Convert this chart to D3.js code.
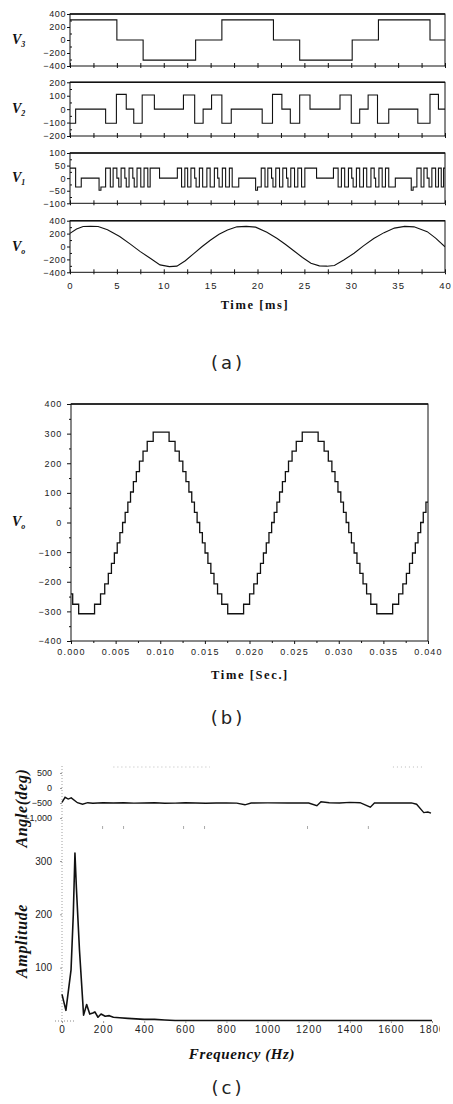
<!DOCTYPE html>
<html>
<head>
<meta charset="utf-8">
<script src="https://cdn.jsdelivr.net/npm/d3@7"></script>
<style>
    html, body { margin: 0; padding: 0; background: #fff; }
    svg { display: block; }
    .tick text { font-family: "Liberation Sans", Arial, sans-serif; fill: #222; }
    .serif-title { font-family: "Liberation Serif", "Times New Roman", serif; font-weight: bold; fill: #111; }
    .panel-tag { font-family: "DejaVu Sans", "Noto Sans", sans-serif; font-size: 18px; fill: #222; letter-spacing: 3px; }
</style>
</head>
<body>
<svg id="figure" width="453" height="1104"></svg>
<script>
// ---- panel (a): stacked cell voltages, time in ms
const v3Times = [0, 5.0, 7.8, 13.4, 16.2, 21.7, 24.5, 30.1, 32.9, 38.4, 40];
const v3Values = [310, 0, -310, 0, 310, 0, -310, 0, 310, 0, 0];

const v2Times = [0, 0.6, 3.8, 4.95, 6.0, 6.8, 7.7, 9.0, 12.1, 13.3, 14.2, 15.1, 16.2, 17.2,
    20.5, 21.6, 22.6, 23.5, 24.5, 25.6, 28.8, 30.0, 30.9, 31.8, 32.8, 34.0, 37.1, 38.4, 39.3, 40];
const v2Values = [-105, 0, -105, 110, 0, -105, 105, 0, 105, -105, 0, 105, -105, 0,
    -105, 110, 0, -105, 105, 0, 105, -105, 0, 105, -105, 0, -105, 110, 0, 0];

const v1Times = [0, 0.6, 1.2, 3.1, 3.3, 3.8, 4.3, 4.6, 5.0, 5.2, 5.45, 5.85, 6.0, 6.3, 6.7, 6.85,
    7.15, 7.55, 7.9, 8.3, 8.55, 9.55, 11.45, 11.9, 12.25, 12.55, 12.9, 13.3, 13.45, 13.8, 14.15,
    14.6, 14.95, 15.4, 15.75, 15.9, 16.25, 16.6, 17.0, 17.3, 18.0, 19.8, 20.0, 20.4, 20.8, 21.1,
    21.5, 21.65, 21.95, 22.35, 22.7, 23.1, 23.25, 23.55, 23.95, 24.3, 24.7, 25.05, 26.3, 28.1,
    28.6, 28.95, 29.3, 29.7, 30.05, 30.2, 30.55, 30.9, 31.3, 31.65, 32.1, 32.45, 32.6, 32.95,
    33.3, 33.65, 34.0, 34.7, 36.4, 36.6, 37.0, 37.45, 37.75, 38.1, 38.3, 38.6, 39.0, 39.3, 39.6,
    39.85, 40];
const v1Values = [40, -35, 0, -48, -35, 40, -35, 40, 0, -35, 40, 0, -35, 40, 0, -35,
    40, -35, 40, -35, 40, 0, 40, -35, 40, -35, 40, 0, -35, 40, -35,
    40, -35, 40, 0, -35, 40, -35, 40, -35, 0, -48, -35, 40, -35, 40,
    0, -35, 40, -35, 40, 0, -35, 40, -35, 40, -35, 40, 0, 40,
    -35, 40, -35, 40, 0, -35, 40, -35, 40, -35, 40, 0, -35, 40,
    -35, 40, -35, 0, -48, -35, 40, -35, 40, 0, -35, 40, -35, 40, -35,
    40, 40];

const voTimes = [0, 0.7, 1.4, 2.2, 3.0, 4.0, 5.3, 6.4, 7.5, 8.6, 9.6, 10.6, 11.4, 12.3, 13.2,
    14.1, 15.0, 15.9, 16.8, 17.8, 18.8, 19.8, 21.0, 22.1, 23.0, 23.9, 24.8, 25.7, 26.6, 27.4,
    28.2, 29.2, 30.3, 31.3, 32.4, 33.5, 34.6, 35.7, 36.7, 38.1, 39.0, 40.0];
const voValues = [205, 270, 310, 315, 310, 260, 155, 40, -80, -185, -285, -312, -305, -220, -110,
    0, 100, 190, 255, 305, 312, 300, 220, 125, 30, -70, -170, -260, -300, -305,
    -295, -210, -105, 10, 125, 215, 285, 312, 305, 230, 130, -5];

const v3Ticks = [400, 200, 0, -200, -400];
const v2Ticks = [200, 100, 0, -100, -200];
const v1Ticks = [100, 50, 0, -50, -100];
const voTicks = [400, 200, 0, -200, -400];
const msTicks = [0, 5, 10, 15, 20, 25, 30, 35, 40];

// ---- panel (b): staircase output voltage, time in s
const stairTimes = [0, 0.00019, 0.00086,
    0.00264, 0.00331, 0.00378, 0.00418, 0.00453, 0.00486, 0.00518, 0.00548, 0.00578,
    0.00607, 0.00637, 0.00667, 0.00699, 0.00732, 0.00767, 0.00807, 0.00854, 0.00921,
    0.01099, 0.01166, 0.01213, 0.01253, 0.01288, 0.01321, 0.01353, 0.01383, 0.01413,
    0.01442, 0.01472, 0.01502, 0.01534, 0.01567, 0.01602, 0.01642, 0.01689, 0.01756,
    0.01934, 0.02001, 0.02048, 0.02088, 0.02123, 0.02156, 0.02188, 0.02218, 0.02248,
    0.02277, 0.02307, 0.02337, 0.02369, 0.02402, 0.02437, 0.02477, 0.02524, 0.02591,
    0.02769, 0.02836, 0.02883, 0.02923, 0.02958, 0.02991, 0.03023, 0.03053, 0.03083,
    0.03112, 0.03142, 0.03172, 0.03204, 0.03237, 0.03272, 0.03312, 0.03359, 0.03426,
    0.03604, 0.03671, 0.03718, 0.03758, 0.03793, 0.03826, 0.03858, 0.03888, 0.03918,
    0.03947, 0.03977, 0.04];
const stairLevels = [-241, -276, -308,
    -276, -241, -207, -172, -138, -103, -69, -34, 0,
    34, 69, 103, 138, 172, 207, 241, 274, 305,
    274, 241, 207, 172, 138, 103, 69, 34, 0,
    -34, -69, -103, -138, -172, -207, -241, -276, -308,
    -276, -241, -207, -172, -138, -103, -69, -34, 0,
    34, 69, 103, 138, 172, 207, 241, 274, 305,
    274, 241, 207, 172, 138, 103, 69, 34, 0,
    -34, -69, -103, -138, -172, -207, -241, -276, -308,
    -276, -241, -207, -172, -138, -103, -69, -34, 0,
    34, 69, 69];

const bVoltTicks = [400, 300, 200, 100, 0, -100, -200, -300, -400];
const bSecTicks = [0, 0.005, 0.01, 0.015, 0.02, 0.025, 0.03, 0.035, 0.04];

// ---- panel (c): spectrum
const angleFreq = [0, 15, 30, 45, 75, 100, 125, 150, 200, 250, 300, 350, 400, 450, 500, 550, 600,
    650, 700, 750, 800, 850, 890, 920, 1000, 1100, 1200, 1240, 1260, 1300, 1350, 1400, 1450,
    1500, 1520, 1600, 1700, 1725, 1760, 1780, 1795];
const angleDeg = [-480, -310, -370, -330, -490, -540, -490, -510, -490, -500, -490, -505, -500,
    -490, -510, -505, -490, -500, -510, -500, -495, -505, -560, -500, -495, -500, -500, -590,
    -460, -490, -500, -480, -490, -640, -500, -500, -495, -540, -820, -800, -840];

const ampFreq = [0, 19, 44, 55, 63, 70, 85, 105, 120, 135, 150, 160, 175, 190, 210, 230, 250,
    280, 320, 360, 400, 450, 500, 550, 800, 1200, 1800];
const ampValue = [50, 20, 96, 200, 315, 250, 133, 11, 31, 13, 15, 17, 7, 13, 9, 10, 7,
    6, 5, 4, 3, 3, 2, 1, 1, 1, 1];

const angleTicks = [500, 0, -500, -1000];
const ampTicks = [300, 200, 100];
const freqTicks = [0, 200, 400, 600, 800, 1000, 1200, 1400, 1600, 1800];

(function () {
    "use strict";

    const svg = d3.select("#figure");
    const defs = svg.append("defs");
    let clipCount = 0;

    function clipRect(x, y, w, h) {
        const id = "clip-" + (clipCount++);
        defs.append("clipPath").attr("id", id)
            .append("rect")
            .attr("x", x).attr("y", y)
            .attr("width", w).attr("height", h);
        return "url(#" + id + ")";
    }

    function styleAxis(g, size, spacing) {
        g.select(".domain").remove();
        g.selectAll(".tick line").attr("stroke", "#111");
        g.selectAll(".tick text")
            .attr("font-size", size)
            .attr("letter-spacing", spacing || 0);
    }

    function vLabel(x, y, sub) {
        const t = svg.append("text")
            .attr("class", "serif-title")
            .attr("x", x)
            .attr("y", y)
            .attr("font-style", "italic");
        t.append("tspan").attr("font-size", 14).text("V");
        t.append("tspan").attr("font-size", 8).attr("dy", 3).text(sub);
    }

    // ================= (a) =================
    const xMs = d3.scaleLinear().domain([0, 40]).range([70, 445]);

    const strips = [
        { sub: "3", times: v3Times, values: v3Values, ticks: v3Ticks, range: [66, 14], step: true },
        { sub: "2", times: v2Times, values: v2Values, ticks: v2Ticks, range: [136, 82.3], step: true },
        { sub: "1", times: v1Times, values: v1Values, ticks: v1Ticks, range: [203.3, 153], step: true },
        { sub: "o", times: voTimes, values: voValues, ticks: voTicks, range: [272.3, 220.7], step: false }
    ];

    strips.forEach((s, idx) => {
        const y = d3.scaleLinear()
            .domain([s.ticks[s.ticks.length - 1], s.ticks[0]])
            .range(s.range);
        const top = s.range[1];
        const bottom = s.range[0];

        const line = d3.line()
            .x(d => xMs(d[0]))
            .y(d => y(d[1]))
            .curve(s.step ? d3.curveStepAfter : d3.curveLinear);

        svg.append("path")
            .datum(d3.zip(s.times, s.values))
            .attr("clip-path", clipRect(70, top, 375, bottom - top))
            .attr("fill", "none")
            .attr("stroke", "#111")
            .attr("stroke-width", 1.1)
            .attr("d", line);

        svg.append("rect")
            .attr("x", 70).attr("y", top)
            .attr("width", 375).attr("height", bottom - top)
            .attr("fill", "none")
            .attr("stroke", "#111")
            .attr("stroke-width", 1);

        // heavier top edge, as in the print
        svg.append("line")
            .attr("x1", 70).attr("x2", 445)
            .attr("y1", top).attr("y2", top)
            .attr("stroke", "#111")
            .attr("stroke-width", 1.6);

        const left = svg.append("g")
            .attr("transform", "translate(70,0)")
            .call(d3.axisLeft(y).tickValues(s.ticks).tickSize(3).tickPadding(1));
        styleAxis(left, 9, 0.6);

        const minor = svg.append("g")
            .attr("transform", "translate(70,0)")
            .call(d3.axisLeft(y).tickValues(d3.pairs(s.ticks, (a, b) => (a + b) / 2))
                .tickSize(-2).tickFormat(""));
        styleAxis(minor, 9);

        const bottomTicks = svg.append("g")
            .attr("transform", "translate(0," + bottom + ")")
            .call(d3.axisBottom(xMs).tickValues(d3.range(0, 40.01, 2.5))
                .tickSize(-3).tickFormat(""));
        styleAxis(bottomTicks, 9);
        bottomTicks.selectAll(".tick").append("line")
            .attr("y2", 2).attr("stroke", "#111");

        if (idx === strips.length - 1) {
            const labels = svg.append("g")
                .attr("transform", "translate(0," + bottom + ")")
                .call(d3.axisBottom(xMs).tickValues(msTicks).tickSize(0).tickPadding(10));
            styleAxis(labels, 9.5, 1);
        }

        vLabel(12, (top + bottom) / 2 + 4, s.sub);
    });

    svg.append("text")
        .attr("class", "serif-title")
        .attr("x", 255).attr("y", 309)
        .attr("text-anchor", "middle")
        .attr("font-size", 12.5)
        .attr("letter-spacing", 1.6)
        .text("Time [ms]");

    svg.append("text")
        .attr("class", "panel-tag")
        .attr("x", 228).attr("y", 369)
        .attr("text-anchor", "middle")
        .text("(a)");

    // ================= (b) =================
    const xSec = d3.scaleLinear().domain([0, 0.04]).range([71, 428]);
    const yVolt = d3.scaleLinear().domain([-400, 400]).range([641, 404]);

    const stairLine = d3.line()
        .x(d => xSec(d[0]))
        .y(d => yVolt(d[1]))
        .curve(d3.curveStepAfter);

    svg.append("path")
        .datum(d3.zip(stairTimes, stairLevels))
        .attr("clip-path", clipRect(71, 404, 357, 237))
        .attr("fill", "none")
        .attr("stroke", "#111")
        .attr("stroke-width", 1.3)
        .attr("d", stairLine);

    svg.append("rect")
        .attr("x", 71).attr("y", 404)
        .attr("width", 357).attr("height", 237)
        .attr("fill", "none")
        .attr("stroke", "#111")
        .attr("stroke-width", 1);
    svg.append("line")
        .attr("x1", 71).attr("x2", 428)
        .attr("y1", 404).attr("y2", 404)
        .attr("stroke", "#111")
        .attr("stroke-width", 1.5);

    const bLeft = svg.append("g")
        .attr("transform", "translate(71,0)")
        .call(d3.axisLeft(yVolt).tickValues(bVoltTicks).tickSize(4).tickPadding(5));
    styleAxis(bLeft, 9, 0.8);

    const bLeftMinor = svg.append("g")
        .attr("transform", "translate(71,0)")
        .call(d3.axisLeft(yVolt).tickValues(d3.pairs(bVoltTicks, (a, b) => (a + b) / 2))
            .tickSize(2).tickFormat(""));
    styleAxis(bLeftMinor, 9);

    const bBottom = svg.append("g")
        .attr("transform", "translate(0,641)")
        .call(d3.axisBottom(xSec).tickValues(bSecTicks).tickSize(3).tickPadding(5)
            .tickFormat(d3.format(".3f")));
    styleAxis(bBottom, 9, 1.2);

    const bBottomMinor = svg.append("g")
        .attr("transform", "translate(0,641)")
        .call(d3.axisBottom(xSec).tickValues(d3.pairs(bSecTicks, (a, b) => (a + b) / 2))
            .tickSize(2).tickFormat(""));
    styleAxis(bBottomMinor, 9);

    vLabel(12, 526, "o");

    svg.append("text")
        .attr("class", "serif-title")
        .attr("x", 250).attr("y", 679)
        .attr("text-anchor", "middle")
        .attr("font-size", 12.5)
        .attr("letter-spacing", 1.6)
        .text("Time [Sec.]");

    svg.append("text")
        .attr("class", "panel-tag")
        .attr("x", 228).attr("y", 724)
        .attr("text-anchor", "middle")
        .text("(b)");

    // ================= (c) =================
    const xFreq = d3.scaleLinear().domain([0, 1800]).range([62, 432]);
    const yAngle = d3.scaleLinear().domain([-1000, 500]).range([818, 773]);
    const yAmp = d3.scaleLinear().domain([0, 300]).range([1021, 861]);

    // dotted left axis
    svg.append("line")
        .attr("x1", 62).attr("x2", 62)
        .attr("y1", 766).attr("y2", 1024)
        .attr("stroke", "#888")
        .attr("stroke-width", 0.8)
        .attr("stroke-dasharray", "1,2");

    // faint dotted frame pieces of the angle box
    [[250, 720], [1610, 1760]].forEach(seg => {
        svg.append("line")
            .attr("x1", xFreq(seg[0])).attr("x2", xFreq(seg[1]))
            .attr("y1", 767).attr("y2", 767)
            .attr("stroke", "#aaa")
            .attr("stroke-width", 0.8)
            .attr("stroke-dasharray", "1,3");
    });
    const faintTicks = svg.append("g")
        .attr("transform", "translate(0,826)")
        .call(d3.axisBottom(xFreq).tickValues([195, 297, 589, 691, 1192, 1488])
            .tickSize(3).tickFormat(""));
    styleAxis(faintTicks, 9);
    faintTicks.selectAll(".tick line").attr("stroke", "#aaa");

    const angleLine = d3.line()
        .x(d => xFreq(d[0]))
        .y(d => yAngle(d[1]));

    svg.append("path")
        .datum(d3.zip(angleFreq, angleDeg))
        .attr("fill", "none")
        .attr("stroke", "#111")
        .attr("stroke-width", 1.4)
        .attr("d", angleLine);

    const ampLine = d3.line()
        .x(d => xFreq(d[0]))
        .y(d => yAmp(d[1]));

    svg.append("path")
        .datum(d3.zip(ampFreq, ampValue))
        .attr("fill", "none")
        .attr("stroke", "#111")
        .attr("stroke-width", 1.6)
        .attr("stroke-linejoin", "round")
        .attr("d", ampLine);

    const cAngle = svg.append("g")
        .attr("transform", "translate(62,0)")
        .call(d3.axisLeft(yAngle).tickValues(angleTicks).tickSize(2).tickPadding(8));
    styleAxis(cAngle, 9);
    cAngle.selectAll(".tick line").attr("stroke", "#999");

    const cAmp = svg.append("g")
        .attr("transform", "translate(62,0)")
        .call(d3.axisLeft(yAmp).tickValues(ampTicks).tickSize(2).tickPadding(8));
    styleAxis(cAmp, 10);
    cAmp.selectAll(".tick line").attr("stroke", "#999");

    // zero line of the amplitude plot, dotted near the origin
    svg.append("line")
        .attr("x1", 55).attr("x2", xFreq(60))
        .attr("y1", yAmp(0)).attr("y2", yAmp(0))
        .attr("stroke", "#888")
        .attr("stroke-dasharray", "1,2");

    // the print cuts the last label at the right edge
    const cBottom = svg.append("g")
        .attr("clip-path", clipRect(0, 1000, 440, 60))
        .append("g")
        .attr("transform", "translate(0," + yAmp(0) + ")")
        .call(d3.axisBottom(xFreq).tickValues(freqTicks).tickSize(2).tickPadding(3)
            .tickFormat(d3.format("d")));
    styleAxis(cBottom, 10, 1);
    cBottom.selectAll(".tick line").attr("stroke", "#999");

    svg.append("text")
        .attr("class", "serif-title")
        .attr("transform", "translate(27,808) rotate(-90)")
        .attr("text-anchor", "middle")
        .attr("font-style", "italic")
        .attr("font-size", 16)
        .attr("letter-spacing", 0.6)
        .text("Angle(deg)");

    svg.append("text")
        .attr("class", "serif-title")
        .attr("transform", "translate(27,941) rotate(-90)")
        .attr("text-anchor", "middle")
        .attr("font-style", "italic")
        .attr("font-size", 16)
        .attr("letter-spacing", 0.6)
        .text("Amplitude");

    svg.append("text")
        .attr("class", "serif-title")
        .attr("x", 242).attr("y", 1059)
        .attr("text-anchor", "middle")
        .attr("font-style", "italic")
        .attr("font-size", 15)
        .attr("letter-spacing", 0.6)
        .text("Frequency (Hz)");

    svg.append("text")
        .attr("class", "panel-tag")
        .attr("x", 228).attr("y", 1094)
        .attr("text-anchor", "middle")
        .text("(c)");
}());
</script>
</body>
</html>
